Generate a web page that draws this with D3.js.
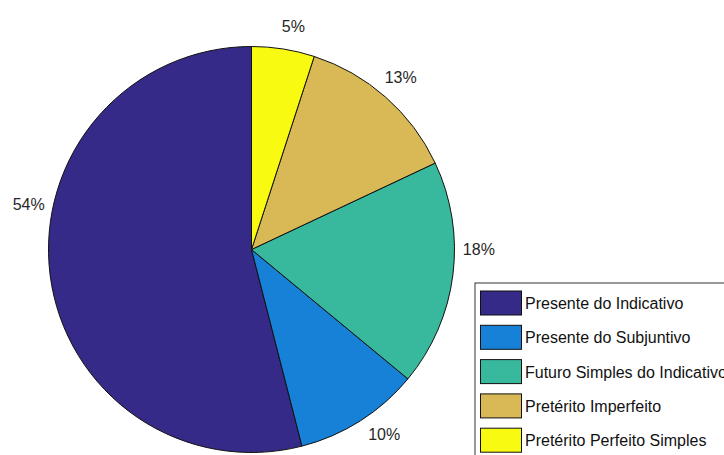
<!DOCTYPE html>
<html>
<head>
<meta charset="utf-8">
<script src="https://cdn.jsdelivr.net/npm/d3@7"></script>
<style>
  html, body { margin: 0; padding: 0; background: #fff; }
  svg { display: block; font-family: "Liberation Sans", Arial, sans-serif; }
</style>
</head>
<body>
<svg id="chart" width="724" height="455"></svg>
<script>
// Verb tense shares (percent), in drawing order
const categories = [
  "Presente do Indicativo",
  "Presente do Subjuntivo",
  "Futuro Simples do Indicativo",
  "Pretérito Imperfeito",
  "Pretérito Perfeito Simples"
];
const shares = [54, 10, 18, 13, 5];
const sliceColors = ["#352a87", "#1681d6", "#38b99e", "#d8b955", "#f8fa12"];

const svg = d3.select("#chart");
const W = 724, H = 455;
const cx = 251.5, cy = 249.5, R = 203;

svg.append("rect").attr("width", W).attr("height", H).attr("fill", "#fff");

// Slices run counter-clockwise starting at 12 o'clock
const pie = d3.pie().sort(null).startAngle(0).endAngle(-2 * Math.PI);
const arcs = pie(shares);
const arc = d3.arc().innerRadius(0).outerRadius(R);

const g = svg.append("g").attr("transform", `translate(${cx},${cy})`);

g.selectAll("path.slice")
  .data(arcs)
  .join("path")
  .attr("class", "slice")
  .attr("d", arc)
  .attr("fill", (d, i) => sliceColors[i])
  .attr("stroke", "#111")
  .attr("stroke-width", 1);

// Percent labels just outside the rim; a few are eased sideways for clearance
const labelR = R * 1.12;
const labelNudgeDeg = [18.7, -3.3, -7.2, -0.4, 1.6];
g.selectAll("text.pct")
  .data(arcs)
  .join("text")
  .attr("class", "pct")
  .each(function (d, i) {
    const mid = (d.startAngle + d.endAngle) / 2 + labelNudgeDeg[i] * Math.PI / 180;
    d3.select(this)
      .attr("x", labelR * Math.sin(mid))
      .attr("y", -labelR * Math.cos(mid));
  })
  .attr("text-anchor", "middle")
  .attr("dominant-baseline", "central")
  .attr("font-size", 16)
  .attr("fill", "#262626")
  .text((d, i) => d3.format(".0f")(shares[i]) + "%");

// Legend
const legend = svg.append("g").attr("transform", "translate(475,283)");
legend.append("rect")
  .attr("x", 0).attr("y", 0)
  .attr("width", 270).attr("height", 190)
  .attr("fill", "#fff")
  .attr("stroke", "#333")
  .attr("stroke-width", 1);

const rowY = d3.scaleBand().domain(d3.range(categories.length)).range([4, 4 + 34.3 * categories.length]);
const rows = legend.selectAll("g.row")
  .data(categories)
  .join("g")
  .attr("class", "row")
  .attr("transform", (d, i) => `translate(0,${rowY(i)})`);

rows.append("rect")
  .attr("x", 5.5).attr("y", 4)
  .attr("width", 41).attr("height", 24)
  .attr("fill", (d, i) => sliceColors[i])
  .attr("stroke", "#111")
  .attr("stroke-width", 1);

rows.append("text")
  .attr("x", 50).attr("y", 16.5)
  .attr("dominant-baseline", "central")
  .attr("font-size", 16)
  .attr("fill", "#111")
  .text(d => d);
</script>
</body>
</html>
